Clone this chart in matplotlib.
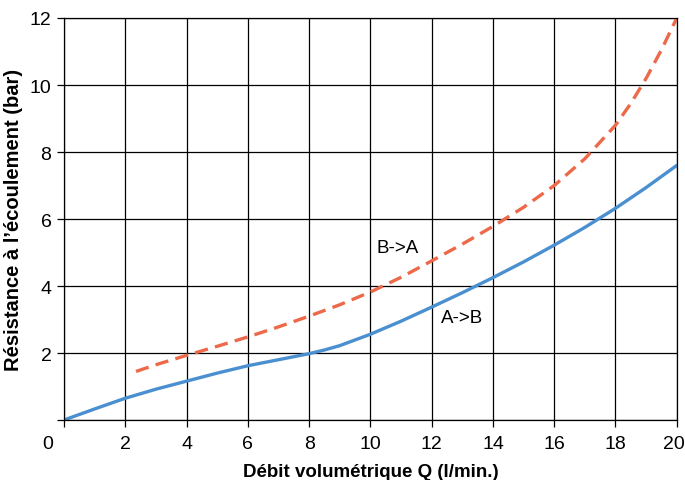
import matplotlib
matplotlib.use('Agg')
import matplotlib.pyplot as plt
import matplotlib.transforms as mtransforms

plt.rcParams['font.family'] = ['Liberation Sans', 'DejaVu Sans']

# A->B (courbe bleue)
q_ab = [0, 1, 2, 3, 4, 5, 6, 7, 8, 8.5, 9, 10, 11, 12, 13, 14, 15, 16, 17, 18, 19, 20]
p_ab = [0, 0.33, 0.65, 0.92, 1.16, 1.4, 1.62, 1.8, 1.98, 2.09, 2.22, 2.56, 2.95, 3.37,
        3.8, 4.25, 4.72, 5.22, 5.75, 6.32, 6.94, 7.6]

# B->A (courbe orange pointillée)
q_ba = [2.35, 3, 4, 5, 6, 7, 8, 9, 10, 11, 12, 13, 14, 15, 16, 17, 18, 18.5, 19, 19.5, 20]
p_ba = [1.45, 1.65, 1.93, 2.2, 2.48, 2.78, 3.1, 3.44, 3.82, 4.26, 4.75, 5.25,
        5.78, 6.35, 7.0, 7.8, 8.8, 9.45, 10.2, 11.05, 12.0]

x_ticks = [0, 2, 4, 6, 8, 10, 12, 14, 16, 18, 20]
y_ticks = [0, 2, 4, 6, 8, 10, 12]
y_labels = ['', '2', '4', '6', '8', '10', '12']

fig = plt.figure(figsize=(6.85, 4.81), dpi=100)
ax = fig.add_axes([0.0934, 0.1247, 0.8946, 0.8358])

ax.plot(q_ab, p_ab, color='#4a8fd0', lw=2.4, solid_capstyle='round')
ax.plot(q_ba, p_ba, color='#ec6a4a', lw=2.4, dashes=(4, 2.2))

ax.text(10.9, 5.15, 'B->A', fontsize=13.5, ha='center', va='center')
ax.text(13.0, 3.05, 'A->B', fontsize=13.5, ha='center', va='center')

ax.set_xlim(0, 20)
ax.set_ylim(0, 12)
ax.set_xticks(x_ticks)
ax.set_yticks(y_ticks)
ax.set_yticklabels(y_labels)
ax.grid(True, color='black', lw=0.9)
ax.set_axisbelow(True)
ax.tick_params(direction='out', length=5, width=0.9, labelsize=14)
ax.tick_params(axis='x', pad=6)
ax.tick_params(axis='y', pad=4)
for s in ax.spines.values():
    s.set_linewidth(0.9)

# le "0" est décalé vers la gauche, le "20" un peu aussi pour rester dans l'image
xlbls = ax.get_xticklabels()
xlbls[0].set_transform(xlbls[0].get_transform() + mtransforms.ScaledTranslation(-16 / 100, 0, fig.dpi_scale_trans))
xlbls[-1].set_transform(xlbls[-1].get_transform() + mtransforms.ScaledTranslation(-3 / 100, 0, fig.dpi_scale_trans))

ax.set_xlabel('Débit volumétrique Q (l/min.)', fontsize=13.5, fontweight='bold', labelpad=8)
ax.set_ylabel('Résistance à l’écoulement (bar)', fontsize=14.5, fontweight='bold', labelpad=5)

fig.savefig('out.png', dpi=100)
